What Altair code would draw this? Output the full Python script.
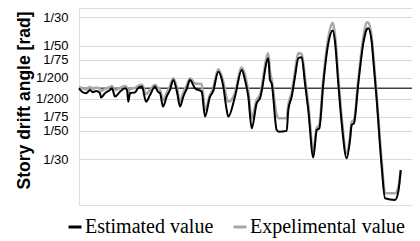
import altair as alt
import pandas as pd

# time step (arbitrary units) and story drift angle in 1/1000 rad
step = [0, 3, 7, 9, 11, 14, 17, 21, 22, 26,
        31, 33, 36, 41, 46, 48, 49.3, 51, 56, 59,
        63, 67, 71, 76, 79, 81, 84, 87.7, 91, 94.3,
        98, 101, 104.3, 108, 111, 116, 122.7, 126, 131, 134,
        139.3, 144.3, 147.7, 149.3, 156, 162.7, 166, 169.3, 172.7, 177.7,
        181, 189.3, 191, 192.7, 197.7, 200, 207.7, 209.3, 212.7, 216,
        219.3, 222.7, 226, 229.3, 234.3, 237.7, 240.3, 244.3, 249.3, 253.7,
        256, 259.3, 262.7, 267.7, 271, 272.7, 275, 279.3, 284.3, 287.7,
        289.3, 292.7, 294.3, 297.7, 302.7, 306, 316, 319.3, 321.7]

estimated = [0, -1.6, -2.3, -1.6, -0.8, -1.9, -1.3, -2.3, -4.3, -2.3,
             -0.8, 0, -3.9, -1.6, 0, -0.8, -6.3, -2.3, -1.9, 0,
             0.8, -6.3, -3.2, 0.8, -1.7, -2.2, -8.6, -3.9, -0.8, 3.9,
             -1.7, -8.6, -3.9, 0.1, 3.9, 0, -1.6, -13.3, -3.9, -1.6,
             7.8, 0.8, -10.2, -13.3, -3.9, 8.6, 3.9, -3.9, -18.8, -7.0,
             -4.7, 14.1, 3.9, 2.3, -19.6, -20.4, -20.0, -10.2, -3.9, 5.4,
             14.1, 14.6, 2.3, -10.2, -32.5, -19.6, -18.8, 2.3, 21.1, 27.1,
             21.9, 2.3, -16.4, -32.9, -24.3, -17.2, -16.4, 2.3, 21.1, 27.7,
             28.2, 21.9, 13.3, -5.5, -36.8, -51.6, -52.4, -48.5, -38.4]

experimental = [0.6, 0.1, -0.6, 0.2, 0.6, -0.3, 0.4, -0.3, -1.3, -0.3,
                0.6, 1.1, -0.8, 0.1, 1.1, 0.3, -2.2, -0.3, 0.1, 1.1,
                1.6, -2.7, -0.8, 1.6, 0.1, -0.8, -5.5, -2.2, 1.1, 4.7,
                0.1, -6.3, -2.2, 1.6, 4.7, 2.3, 2.0, -10.2, -3.2, -0.3,
                8.9, 3.0, -4.6, -6.3, -2.2, 9.7, 6.2, -1.7, -14.1, -5.5,
                -3.2, 16.4, 7.7, 3.9, -12.6, -14.1, -14.1, -7.8, -2.2, 7.7,
                16.5, 16.0, 4.8, -7.8, -29.8, -18.6, -17.2, 3.9, 23.6, 30.8,
                25.0, 4.8, -13.9, -30.5, -22.9, -15.8, -14.9, 3.9, 23.6, 31.0,
                30.8, 23.6, 15.6, -3.6, -34.6, -49.3, -49.3, -46.8, -38.4]

series_names = ["Estimated value", "Expelimental value"]
series_colors = ["#000000", "#a8a8a8"]
tick_values = [-33.33, -20, -13.33, -5, 5, 13.33, 20, 33.33]

n = len(step)
df_est = pd.DataFrame({"step": step, "angle": estimated, "series": [series_names[0]] * n})
df_exp = pd.DataFrame({"step": step, "angle": experimental, "series": [series_names[1]] * n})
df_zero = pd.DataFrame({"angle": [0]})

x_enc = alt.X("step:Q", scale=alt.Scale(domain=[0, 333], nice=False, zero=False), axis=None)
y_scale = alt.Scale(domain=[-54.8, 37.7], nice=False, zero=False)
y_axis = alt.Axis(
    values=tick_values,
    labelExpr="'1/' + format(1000/abs(datum.value), '.0f')",
    grid=True, gridColor="#d9d9d9", gridWidth=1,
    ticks=False, domain=False,
    labelFont="Liberation Sans", labelFontSize=13, labelColor="#000000",
    labelPadding=11,
    title="Story drift angle [rad]",
    titleFont="Liberation Sans", titleFontSize=17.5, titleFontWeight="bold",
    titleColor="#000000", titleAngle=270, titleAlign="center", titleBaseline="middle",
    titleX=-55, titleY=92,
)
color_enc = alt.Color(
    "series:N",
    scale=alt.Scale(domain=series_names, range=series_colors),
    legend=alt.Legend(
        title=None, orient="none", legendX=-14, legendY=209, direction="horizontal",
        symbolType="stroke", symbolSize=169, symbolStrokeWidth=3,
        labelFont="Liberation Serif", labelFontSize=20, labelColor="#000000",
        labelOffset=0, columnPadding=13,
    ),
)

grid = alt.Chart(df_zero).mark_rule(color="#404040", strokeWidth=1.5).encode(
    y=alt.Y("angle:Q", scale=y_scale, axis=y_axis)
)

exp_line = alt.Chart(df_exp).mark_line(strokeWidth=2.6, strokeJoin="round", interpolate="monotone").encode(
    x=x_enc, y=alt.Y("angle:Q", scale=y_scale, axis=y_axis), color=color_enc, order="step:Q"
)
est_line = alt.Chart(df_est).mark_line(strokeWidth=2.0, strokeJoin="round", interpolate="monotone").encode(
    x=x_enc, y=alt.Y("angle:Q", scale=y_scale, axis=y_axis), color=color_enc, order="step:Q"
)

chart = alt.layer(grid, exp_line, est_line).properties(
    width=333, height=197,
    autosize=alt.AutoSizeParams(type="none"),
    padding={"left": 71, "top": 0, "right": 0, "bottom": 35},
).configure_view(stroke=None).configure(background="#ffffff")

chart.save("out.html", embed_options={"renderer": "svg", "actions": False})
